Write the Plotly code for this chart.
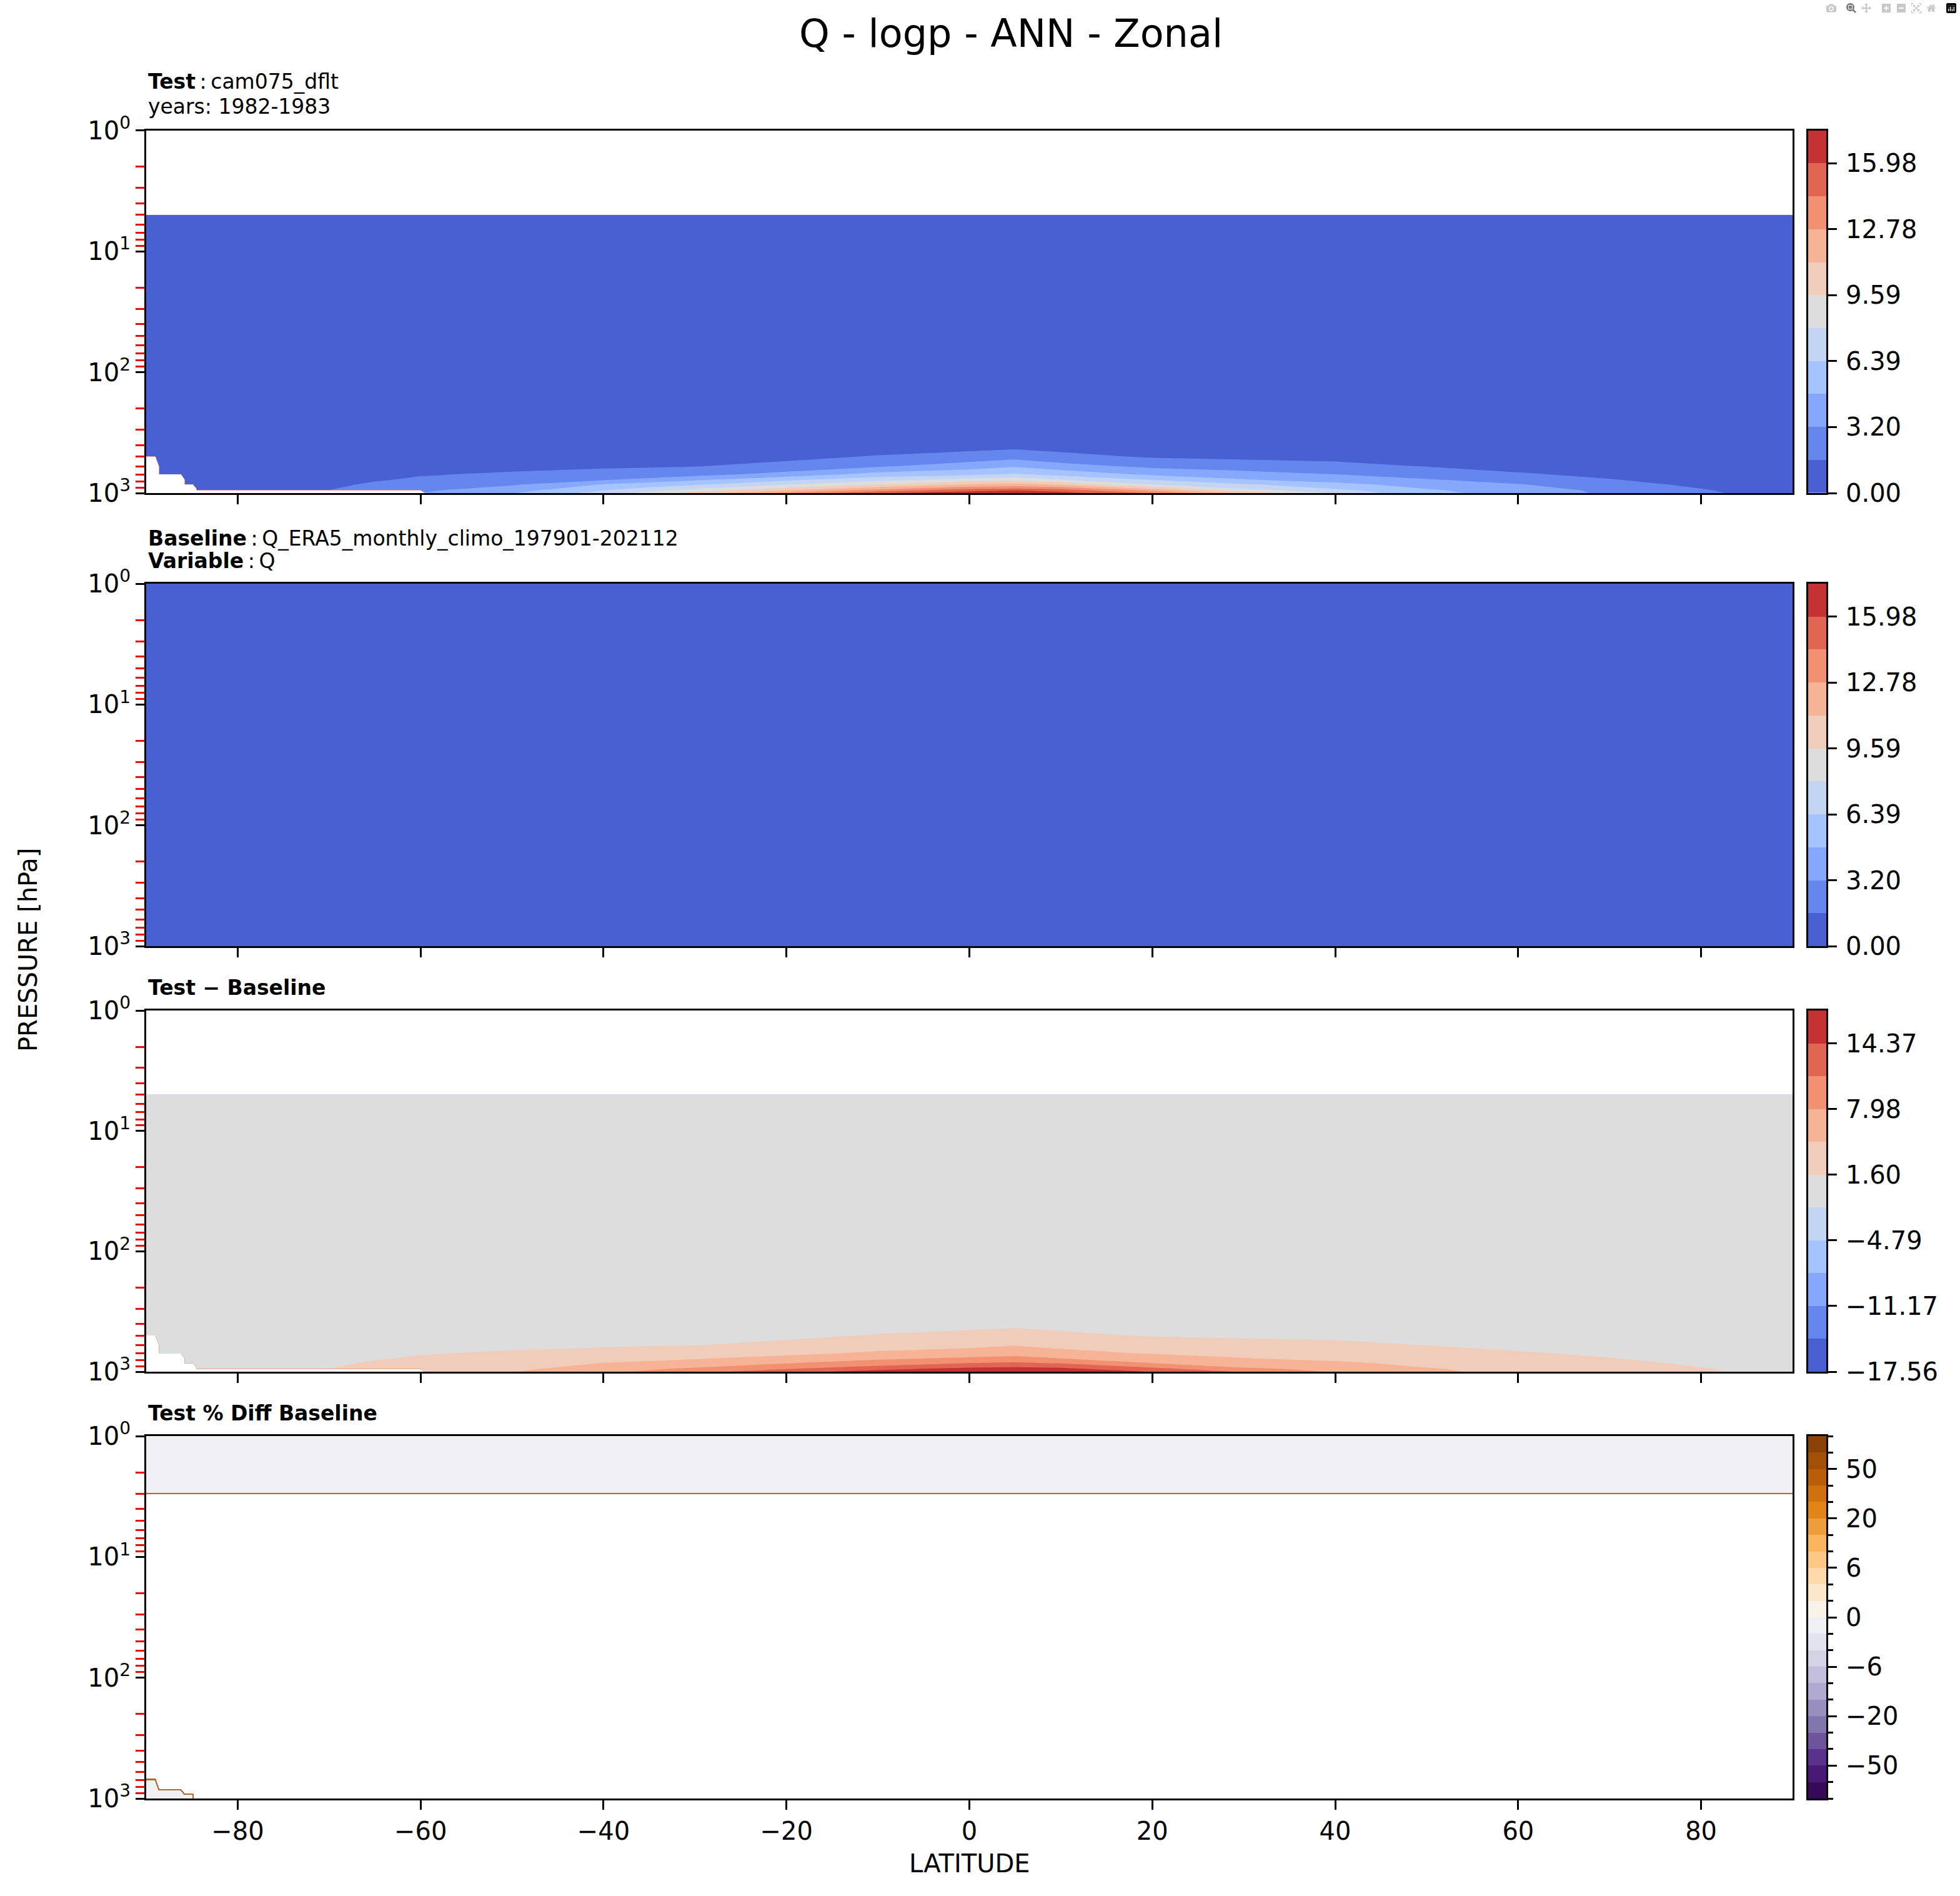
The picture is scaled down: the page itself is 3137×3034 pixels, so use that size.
import numpy as np
import plotly.graph_objects as go

W, H = 3137, 3034

# ---- data -------------------------------------------------------------
LAT = [-90, -89, -88.6, -86.2, -85.8, -84.9, -84.5, -80, -75, -70, -65, -60, -59.5,
       -50, -40, -30, -20, -10, 0, 5, 10, 20, 30, 40, 50, 60, 70, 77, 83, 90]

# test (cam075_dflt) specific humidity, g/kg, rows follow PLEV, None = below ground / above model top
PLEV = [5, 50, 200, 300, 400, 500, 600, 700, 775, 850, 925, 950, 1000]
Q_TEST = [
    [0.003, 0.003, 0.003, 0.003, 0.003, 0.003, 0.003, 0.003, 0.003, 0.003, 0.003, 0.003, 0.003, 0.003, 0.003,
     0.003, 0.004, 0.004, 0.004, 0.004, 0.004, 0.004, 0.003, 0.003, 0.003, 0.003, 0.003, 0.003, 0.003, 0.003],
    [0.003, 0.003, 0.003, 0.003, 0.003, 0.003, 0.003, 0.003, 0.003, 0.003, 0.003, 0.003, 0.003, 0.003, 0.003,
     0.003, 0.002, 0.002, 0.002, 0.002, 0.002, 0.002, 0.003, 0.003, 0.003, 0.003, 0.003, 0.003, 0.003, 0.003],
    [0.01, 0.01, 0.01, 0.01, 0.01, 0.01, 0.01, 0.012, 0.015, 0.02, 0.025, 0.03, 0.03, 0.04, 0.05,
     0.06, 0.09, 0.12, 0.14, 0.15, 0.14, 0.1, 0.07, 0.05, 0.04, 0.03, 0.025, 0.02, 0.015, 0.012],
    [0.04, 0.04, 0.04, 0.045, 0.045, 0.05, 0.05, 0.06, 0.07, 0.09, 0.11, 0.13, 0.13, 0.18, 0.24,
     0.3, 0.4, 0.45, 0.5, 0.52, 0.5, 0.38, 0.3, 0.25, 0.2, 0.15, 0.1, 0.08, 0.06, 0.05],
    [0.08, 0.08, 0.08, 0.09, 0.09, 0.1, 0.1, 0.12, 0.15, 0.2, 0.25, 0.3, 0.3, 0.45, 0.6,
     0.7, 0.75, 0.85, 0.9, 1.0, 0.95, 0.75, 0.65, 0.6, 0.45, 0.35, 0.25, 0.2, 0.15, 0.12],
    [0.14, 0.15, 0.16, 0.17, 0.18, 0.18, 0.2, 0.22, 0.28, 0.35, 0.45, 0.6, 0.6, 0.8, 1.0,
     1.1, 1.25, 1.7, 2.2, 2.6, 2.0, 1.45, 1.25, 1.2, 0.9, 0.7, 0.5, 0.4, 0.3, 0.25],
    [None, None, 0.25, 0.26, 0.27, 0.28, 0.3, 0.35, 0.42, 0.55, 0.75, 1.0, 1.0, 1.2, 1.4,
     1.55, 2.0, 3.0, 4.0, 4.6, 3.85, 2.8, 2.4, 2.0, 1.55, 1.15, 0.85, 0.65, 0.5, 0.4],
    [None, None, 0.35, 0.36, 0.38, 0.4, 0.42, 0.5, 0.6, 0.8, 1.1, 1.5, 1.5, 1.8, 2.1,
     2.6, 3.8, 5.4, 6.0, 6.6, 5.8, 4.5, 3.8, 3.2, 2.5, 1.75, 1.3, 0.95, 0.75, 0.6],
    [None, None, None, None, 0.48, 0.5, 0.55, 0.62, 0.78, 1.0, 1.45, 1.8, 1.8, 2.4, 3.0,
     4.5, 6.0, 7.4, 8.5, 9.0, 8.0, 6.3, 4.9, 4.0, 3.3, 2.5, 1.65, 1.25, 0.95, 0.8],
    [None, None, None, None, 0.58, 0.6, 0.65, 0.75, 0.95, 1.25, 1.85, 2.3, 2.3, 3.0, 4.9,
     6.2, 7.9, 9.5, 11.3, 11.7, 11.0, 8.0, 6.6, 5.4, 4.0, 3.3, 2.1, 1.55, 1.15, 0.95],
    [None, None, None, None, None, None, 0.8, 0.9, 1.15, 1.5, 2.3, 2.8, 2.8, 3.8, 6.0,
     8.0, 10.2, 12.4, 14.4, 14.7, 14.3, 11.2, 8.0, 6.4, 4.8, 3.9, 2.6, 1.9, 1.35, 1.1],
    [None, None, None, None, None, None, 0.85, 1.0, 1.25, 1.65, 2.45, 3.0, 3.0, 4.2, 6.4,
     8.8, 11.2, 13.6, 15.5, 16.0, 15.3, 12.4, 8.9, 6.9, 5.0, 4.1, 2.8, 2.0, 1.45, 1.2],
    [None, None, None, None, None, None, None, None, None, None, None, None, 3.3, 4.7, 7.1,
     10.2, 13.2, 15.8, 16.8, 17.3, 16.6, 14.2, 10.8, 7.7, 5.2, 4.2, 2.9, 2.2, 1.55, 1.3],
]

# baseline (ERA5) specific humidity, kg/kg
BASE_PLEV = [1, 2, 3, 5, 50, 200, 300, 400, 500, 600, 700, 775, 850, 925, 950, 1000]
Q_BASE = [
    [3.8e-6, 3.8e-6, 3.8e-6, 3.8e-6, 3.8e-6, 3.8e-6, 3.8e-6, 3.8e-6, 3.8e-6, 3.7e-6, 3.7e-6, 3.7e-6, 3.7e-6, 3.7e-6, 3.6e-6,
     3.6e-6, 3.5e-6, 3.5e-6, 3.5e-6, 3.5e-6, 3.5e-6, 3.5e-6, 3.6e-6, 3.6e-6, 3.7e-6, 3.7e-6, 3.7e-6, 3.8e-6, 3.8e-6, 3.8e-6],
    [3.7e-6, 3.7e-6, 3.7e-6, 3.7e-6, 3.7e-6, 3.7e-6, 3.7e-6, 3.7e-6, 3.7e-6, 3.6e-6, 3.6e-6, 3.6e-6, 3.6e-6, 3.6e-6, 3.5e-6,
     3.5e-6, 3.4e-6, 3.4e-6, 3.4e-6, 3.4e-6, 3.4e-6, 3.4e-6, 3.5e-6, 3.5e-6, 3.6e-6, 3.6e-6, 3.6e-6, 3.7e-6, 3.7e-6, 3.7e-6],
    [3.6e-6, 3.6e-6, 3.6e-6, 3.6e-6, 3.6e-6, 3.6e-6, 3.6e-6, 3.6e-6, 3.6e-6, 3.5e-6, 3.5e-6, 3.5e-6, 3.5e-6, 3.5e-6, 3.4e-6,
     3.4e-6, 3.3e-6, 3.3e-6, 3.3e-6, 3.3e-6, 3.3e-6, 3.3e-6, 3.4e-6, 3.4e-6, 3.5e-6, 3.5e-6, 3.5e-6, 3.6e-6, 3.6e-6, 3.6e-6],
    [3.5e-6, 3.5e-6, 3.5e-6, 3.5e-6, 3.5e-6, 3.5e-6, 3.5e-6, 3.5e-6, 3.5e-6, 3.4e-6, 3.4e-6, 3.4e-6, 3.4e-6, 3.4e-6, 3.3e-6,
     3.3e-6, 3.2e-6, 3.2e-6, 3.2e-6, 3.2e-6, 3.2e-6, 3.2e-6, 3.3e-6, 3.3e-6, 3.4e-6, 3.4e-6, 3.4e-6, 3.5e-6, 3.5e-6, 3.5e-6],
    [2.9e-6, 2.9e-6, 2.9e-6, 2.9e-6, 2.9e-6, 2.9e-6, 2.9e-6, 2.9e-6, 2.9e-6, 2.9e-6, 2.8e-6, 2.8e-6, 2.8e-6, 2.8e-6, 2.7e-6,
     2.6e-6, 2.4e-6, 2.4e-6, 2.4e-6, 2.4e-6, 2.4e-6, 2.5e-6, 2.6e-6, 2.7e-6, 2.8e-6, 2.8e-6, 2.9e-6, 2.9e-6, 2.9e-6, 2.9e-6],
    [1.0e-5, 1.0e-5, 1.0e-5, 1.0e-5, 1.0e-5, 1.0e-5, 1.1e-5, 1.3e-5, 1.6e-5, 2.1e-5, 2.6e-5, 3.1e-5, 3.1e-5, 4.2e-5, 5.3e-5,
     6.5e-5, 9.6e-5, 1.3e-4, 1.5e-4, 1.6e-4, 1.5e-4, 1.1e-4, 7.5e-5, 5.4e-5, 4.3e-5, 3.2e-5, 2.6e-5, 2.1e-5, 1.6e-5, 1.3e-5],
    [4.2e-5, 4.2e-5, 4.3e-5, 4.6e-5, 4.7e-5, 5.1e-5, 5.2e-5, 6.2e-5, 7.3e-5, 9.4e-5, 1.1e-4, 1.3e-4, 1.3e-4, 1.9e-4, 2.5e-4,
     3.1e-4, 4.1e-4, 4.6e-4, 5.1e-4, 5.4e-4, 5.2e-4, 3.9e-4, 3.1e-4, 2.6e-4, 2.1e-4, 1.6e-4, 1.1e-4, 8.3e-5, 6.2e-5, 5.2e-5],
    [8.3e-5, 8.3e-5, 8.4e-5, 9.2e-5, 9.4e-5, 1.0e-4, 1.0e-4, 1.2e-4, 1.6e-4, 2.1e-4, 2.6e-4, 3.1e-4, 3.1e-4, 4.6e-4, 6.1e-4,
     7.2e-4, 7.8e-4, 8.7e-4, 9.3e-4, 1.0e-3, 9.7e-4, 7.8e-4, 6.7e-4, 6.2e-4, 4.6e-4, 3.6e-4, 2.6e-4, 2.1e-4, 1.6e-4, 1.2e-4],
    [1.4e-4, 1.5e-4, 1.6e-4, 1.7e-4, 1.8e-4, 1.9e-4, 2.0e-4, 2.3e-4, 2.9e-4, 3.6e-4, 4.7e-4, 6.1e-4, 6.2e-4, 8.2e-4, 1.0e-3,
     1.1e-3, 1.3e-3, 1.7e-3, 2.2e-3, 2.6e-3, 2.1e-3, 1.5e-3, 1.3e-3, 1.2e-3, 9.2e-4, 7.1e-4, 5.2e-4, 4.1e-4, 3.1e-4, 2.6e-4],
    [2.3e-4, 2.4e-4, 2.5e-4, 2.6e-4, 2.7e-4, 2.8e-4, 3.0e-4, 3.6e-4, 4.3e-4, 5.6e-4, 7.6e-4, 1.0e-3, 1.0e-3, 1.2e-3, 1.4e-3,
     1.6e-3, 2.0e-3, 3.0e-3, 4.0e-3, 4.6e-3, 3.9e-3, 2.8e-3, 2.4e-3, 2.0e-3, 1.6e-3, 1.2e-3, 8.6e-4, 6.6e-4, 5.1e-4, 4.1e-4],
    [3.3e-4, 3.4e-4, 3.5e-4, 3.6e-4, 3.8e-4, 4.0e-4, 4.2e-4, 5.1e-4, 6.1e-4, 8.1e-4, 1.1e-3, 1.5e-3, 1.5e-3, 1.8e-3, 2.1e-3,
     2.6e-3, 3.8e-3, 5.4e-3, 6.0e-3, 6.6e-3, 5.8e-3, 4.5e-3, 3.8e-3, 3.2e-3, 2.5e-3, 1.8e-3, 1.3e-3, 9.6e-4, 7.6e-4, 6.1e-4],
    [4.3e-4, 4.4e-4, 4.6e-4, 4.7e-4, 4.8e-4, 5.0e-4, 5.5e-4, 6.3e-4, 7.9e-4, 1.0e-3, 1.5e-3, 1.8e-3, 1.8e-3, 2.4e-3, 3.0e-3,
     4.5e-3, 6.0e-3, 7.4e-3, 8.5e-3, 9.0e-3, 8.0e-3, 6.3e-3, 4.9e-3, 4.0e-3, 3.3e-3, 2.5e-3, 1.7e-3, 1.3e-3, 9.6e-4, 8.1e-4],
    [5.2e-4, 5.3e-4, 5.5e-4, 5.6e-4, 5.8e-4, 6.0e-4, 6.5e-4, 7.6e-4, 9.6e-4, 1.3e-3, 1.9e-3, 2.3e-3, 2.3e-3, 3.0e-3, 4.9e-3,
     6.2e-3, 7.9e-3, 9.5e-3, 1.1e-2, 1.2e-2, 1.1e-2, 8.0e-3, 6.6e-3, 5.4e-3, 4.0e-3, 3.3e-3, 2.1e-3, 1.6e-3, 1.2e-3, 9.6e-4],
    [6.4e-4, 6.5e-4, 6.7e-4, 6.9e-4, 7.1e-4, 7.4e-4, 8.0e-4, 9.1e-4, 1.2e-3, 1.5e-3, 2.3e-3, 2.8e-3, 2.8e-3, 3.8e-3, 6.0e-3,
     8.0e-3, 1.0e-2, 1.2e-2, 1.4e-2, 1.5e-2, 1.4e-2, 1.1e-2, 8.0e-3, 6.4e-3, 4.8e-3, 3.9e-3, 2.6e-3, 1.9e-3, 1.4e-3, 1.1e-3],
    [6.8e-4, 6.9e-4, 7.1e-4, 7.3e-4, 7.5e-4, 7.8e-4, 8.5e-4, 1.0e-3, 1.3e-3, 1.7e-3, 2.5e-3, 3.0e-3, 3.0e-3, 4.2e-3, 6.4e-3,
     8.8e-3, 1.1e-2, 1.4e-2, 1.6e-2, 1.6e-2, 1.5e-2, 1.2e-2, 8.9e-3, 6.9e-3, 5.0e-3, 4.1e-3, 2.8e-3, 2.0e-3, 1.5e-3, 1.2e-3],
    [7.5e-4, 7.6e-4, 7.8e-4, 8.0e-4, 8.2e-4, 8.6e-4, 9.3e-4, 1.1e-3, 1.4e-3, 1.9e-3, 2.8e-3, 3.3e-3, 3.3e-3, 4.7e-3, 7.1e-3,
     1.0e-2, 1.3e-2, 1.6e-2, 1.7e-2, 1.7e-2, 1.7e-2, 1.4e-2, 1.1e-2, 7.7e-3, 5.2e-3, 4.2e-3, 2.9e-3, 2.2e-3, 1.6e-3, 1.3e-3],
]

# percent difference, %  (values > 100 are off the scale and stay white)
PCT_LAT = [-90, -89, -88.6, -86.2, -85.8, -84.9, -84.5, 0, 90]
PCT_PLEV = [1, 2, 3, 5, 700, 850, 925, 1000]
PCT_DIFF = [
    [-0.9, -0.9, -0.9, -0.9, -0.9, -0.9, -0.9, -1.1, -0.8],
    [-1.0, -1.0, -1.0, -1.0, -1.0, -1.0, -1.0, -1.2, -0.9],
    [-1.2, -1.2, -1.2, -1.2, -1.2, -1.2, -1.2, -1.4, -1.1],
    [99900, 99900, 99900, 99900, 99900, 99900, 99900, 99900, 99900],
    [-1.1, -1.1, 99900, 99900, 99900, 99900, 99900, 99900, 99900],
    [-1.2, -1.2, -1.3, -1.3, 99900, 99900, 99900, 99900, 99900],
    [-1.2, -1.3, -1.3, -1.4, -1.4, -1.5, 99900, 99900, 99900],
    [-1.3, -1.3, -1.4, -1.4, -1.5, -1.5, 99900, 99900, 99900],
]

Q_LEVELS = [0.0, 1.598, 3.196, 4.794, 6.392, 7.99, 9.588, 11.186, 12.784, 14.382, 15.98, 17.578]
DIFF_LEVELS = [-17.56, -14.367, -11.174, -7.981, -4.788, -1.595, 1.598, 4.791, 7.984, 11.177, 14.37, 17.563]
PCT_LEVELS = [-100, -75, -50, -40, -30, -20, -15, -10, -6, -4, -2, 0, 2, 4, 6, 10, 15, 20, 30, 40, 50, 75, 100]

Q_TICKTEXT = ["0.00", "3.20", "6.39", "9.59", "12.78", "15.98"]
DIFF_TICKTEXT = ["\u221217.56", "\u221211.17", "\u22124.79", "1.60", "7.98", "14.37"]
PCT_TICKTEXT = ["\u221250", "\u221220", "\u22126", "0", "6", "20", "50"]

LAT_TICKS = [-80, -60, -40, -20, 0, 20, 40, 60, 80]
P_TICKS = [1, 10, 100, 1000]
P_TICKTEXT = ["10<sup>0</sup>", "10<sup>1</sup>", "10<sup>2</sup>", "10<sup>3</sup>"]

COOLWARM = ["#4860d1", "#6586ed", "#85a8fc", "#a5c3fe", "#c3d5f3", "#dddddd",
            "#f0cdba", "#f7b396", "#f29072", "#e06651", "#c53233"]
PUOR_R = ["#360a58", "#481a74", "#5a328d", "#6e549d", "#8276ae", "#998fbf", "#b0a9d0", "#c2bedc",
          "#d3d3e7", "#e2e3ef", "#f0f0f4", "#f9f2e8", "#fce7cb", "#fedaaa", "#fdc885", "#fcb55f",
          "#ee9d3c", "#e18518", "#ce710e", "#b95e08", "#a24f07", "#8b4208"]

# ---- derived fields ---------------------------------------------------
test = np.array(Q_TEST, dtype=float)
base = np.array(Q_BASE, dtype=float)
rows = [BASE_PLEV.index(p) for p in PLEV]
diff = test - base[rows]

pct = np.array(PCT_DIFF, dtype=float)
pct_idx = np.where(pct > PCT_LEVELS[-1],
                   len(PCT_LEVELS) - 1 + (pct - PCT_LEVELS[-1]) / 25.0,
                   np.interp(pct, PCT_LEVELS, np.arange(len(PCT_LEVELS))))
pct_index_levels = list(range(len(PCT_LEVELS)))

MISSING = 1e6  # masked points -> above the last level -> white, like matplotlib


def fill_scale(colors):
    # plotly paints band j at (j+1)/(n+1); above the last level is left white
    n = len(colors)
    nc = n + 1
    cs = [[0, colors[0]]]
    for j, c in enumerate(colors):
        cs += [[(j + 0.5) / nc, c], [(j + 1.5) / nc, c]]
    cs += [[(n + 0.5) / nc, "white"], [1, "white"]]
    return cs


def bar_scale(colors):
    n = len(colors)
    cs = []
    for j, c in enumerate(colors):
        cs += [[j / n, c], [(j + 1) / n, c]]
    return cs


def ax_id(n):
    return "" if n == 1 else str(n)


fig = go.Figure()

panels = [
    (LAT, PLEV, test, Q_LEVELS, COOLWARM, None),
    (LAT, BASE_PLEV, base, Q_LEVELS, COOLWARM, None),
    (LAT, PLEV, diff, DIFF_LEVELS, COOLWARM, None),
    (PCT_LAT, PCT_PLEV, pct_idx, pct_index_levels, PUOR_R, "#b0672a"),
]

for k, (x, y, z, lev, cols, linecol) in enumerate(panels, start=1):
    z = np.where(np.isnan(z), MISSING, z)
    fig.add_trace(go.Contour(
        x=x, y=y, z=z,
        xaxis="x" + ax_id(k), yaxis="y" + ax_id(k),
        autocontour=False,
        contours=dict(start=lev[0], end=lev[-1], size=lev[1] - lev[0],
                      coloring="fill", showlines=linecol is not None),
        line=dict(width=1.2 if linecol else 0, color=linecol or "black", smoothing=0),
        colorscale=fill_scale(cols), showscale=False, hoverinfo="skip",
    ))
    # colour bar drawn as a one-column heatmap
    n = len(cols)
    fig.add_trace(go.Heatmap(
        x=[0, 1], y=lev, z=[[j + 0.5] for j in range(n)],
        zmin=0, zmax=n, colorscale=bar_scale(cols), showscale=False,
        xaxis="x" + str(k + 4), yaxis="y" + str(k + 4), hoverinfo="skip",
    ))

# ---- layout -----------------------------------------------------------
XDOM = [234 / W, 2869 / W]
CBDOM = [2894 / W, 2923 / W]
PANEL_PX = [(208.6, 789), (934, 1514), (1617, 2195), (2298, 2878)]

frame = dict(showline=True, linecolor="black", linewidth=3, mirror=True,
             showgrid=False, zeroline=False, tickcolor="black", automargin=False,
             tickfont=dict(size=40, color="black"))

minor_p = [m * 10 ** e for e in range(3) for m in range(2, 10)]

layout = dict(
    width=W, height=H, margin=dict(l=0, r=0, t=0, b=0, pad=0), autosize=False,
    paper_bgcolor="white", plot_bgcolor="white", showlegend=False,
    font=dict(family="DejaVu Sans", color="black"),
)

cb_ticks = [
    (Q_LEVELS[::2], Q_TICKTEXT, None),
    (Q_LEVELS[::2], Q_TICKTEXT, None),
    (DIFF_LEVELS[::2], DIFF_TICKTEXT, None),
    ([2, 5, 8, 11, 14, 17, 20], PCT_TICKTEXT, pct_index_levels),
]

for k, (top, bot) in enumerate(PANEL_PX, start=1):
    ydom = [1 - bot / H, 1 - top / H]
    layout["xaxis" + ax_id(k)] = dict(
        domain=XDOM, anchor="y" + ax_id(k), range=[-90, 90],
        tickmode="array", tickvals=LAT_TICKS, ticks="outside", ticklen=15, tickwidth=2.5,
        showticklabels=(k == 4), **frame)
    layout["yaxis" + ax_id(k)] = dict(
        domain=ydom, anchor="x" + ax_id(k), type="log", range=[3, 0],
        tickmode="array", tickvals=P_TICKS, ticktext=P_TICKTEXT,
        ticks="outside", ticklen=14, tickwidth=3,
        minor=dict(tickmode="array", tickvals=minor_p, ticks="outside",
                   ticklen=14, tickwidth=3, tickcolor="red"),
        **frame)

    lev = panels[k - 1][3]
    tv, tt, minor = cb_ticks[k - 1]
    layout["xaxis" + str(k + 4)] = dict(
        domain=CBDOM, anchor="y" + str(k + 4), range=[0, 1],
        showticklabels=False, ticks="", **frame)
    ycb = dict(
        domain=ydom, anchor="x" + str(k + 4), side="right", range=[lev[0], lev[-1]],
        tickmode="array", tickvals=tv, ticktext=tt, ticks="outside",
        ticklen=14, tickwidth=3, ticklabelstandoff=6, **frame)
    if minor is not None:
        ycb["minor"] = dict(tickmode="array", tickvals=minor, ticks="outside",
                            ticklen=8, tickwidth=3, tickcolor="black")
    layout["yaxis" + str(k + 4)] = ycb

fig.update_layout(**layout)

TX = 235 / W
SP = "\u2009"
notes = [
    ("Q - logp - ANN - Zonal", 1618 / W, 1 - 92 / H, 62, "center"),
    ("<b>Test</b>" + SP + ":" + SP + "cam075_dflt", TX, 1 - 152 / H, 33, "left"),
    ("years: 1982-1983", TX, 1 - 192 / H, 33, "left"),
    ("<b>Baseline</b>" + SP + ":" + SP + "Q_ERA5_monthly_climo_197901-202112", TX, 1 - 883 / H, 33, "left"),
    ("<b>Variable</b>" + SP + ":" + SP + "Q", TX, 1 - 919 / H, 33, "left"),
    ("<b>Test \u2212 Baseline</b>", TX, 1 - 1602 / H, 33, "left"),
    ("<b>Test % Diff Baseline</b>", TX, 1 - 2283 / H, 33, "left"),
]
for text, x, y, size, anchor in notes:
    fig.add_annotation(text=text, x=x, y=y, xref="paper", yref="paper",
                       xanchor=anchor, yanchor="bottom", showarrow=False,
                       font=dict(size=size, color="black"))

fig.add_annotation(text="PRESSURE [hPa]", x=45 / W, y=1 - 1520 / H, xref="paper", yref="paper",
                   xanchor="center", yanchor="middle", textangle=-90, showarrow=False,
                   font=dict(size=40, color="black"))
fig.add_annotation(text="LATITUDE", x=1551 / W, y=1 - 2982 / H, xref="paper", yref="paper",
                   xanchor="center", yanchor="middle", showarrow=False,
                   font=dict(size=40, color="black"))

fig.write_html("out.html", post_script="document.body.style.margin='0px';")
